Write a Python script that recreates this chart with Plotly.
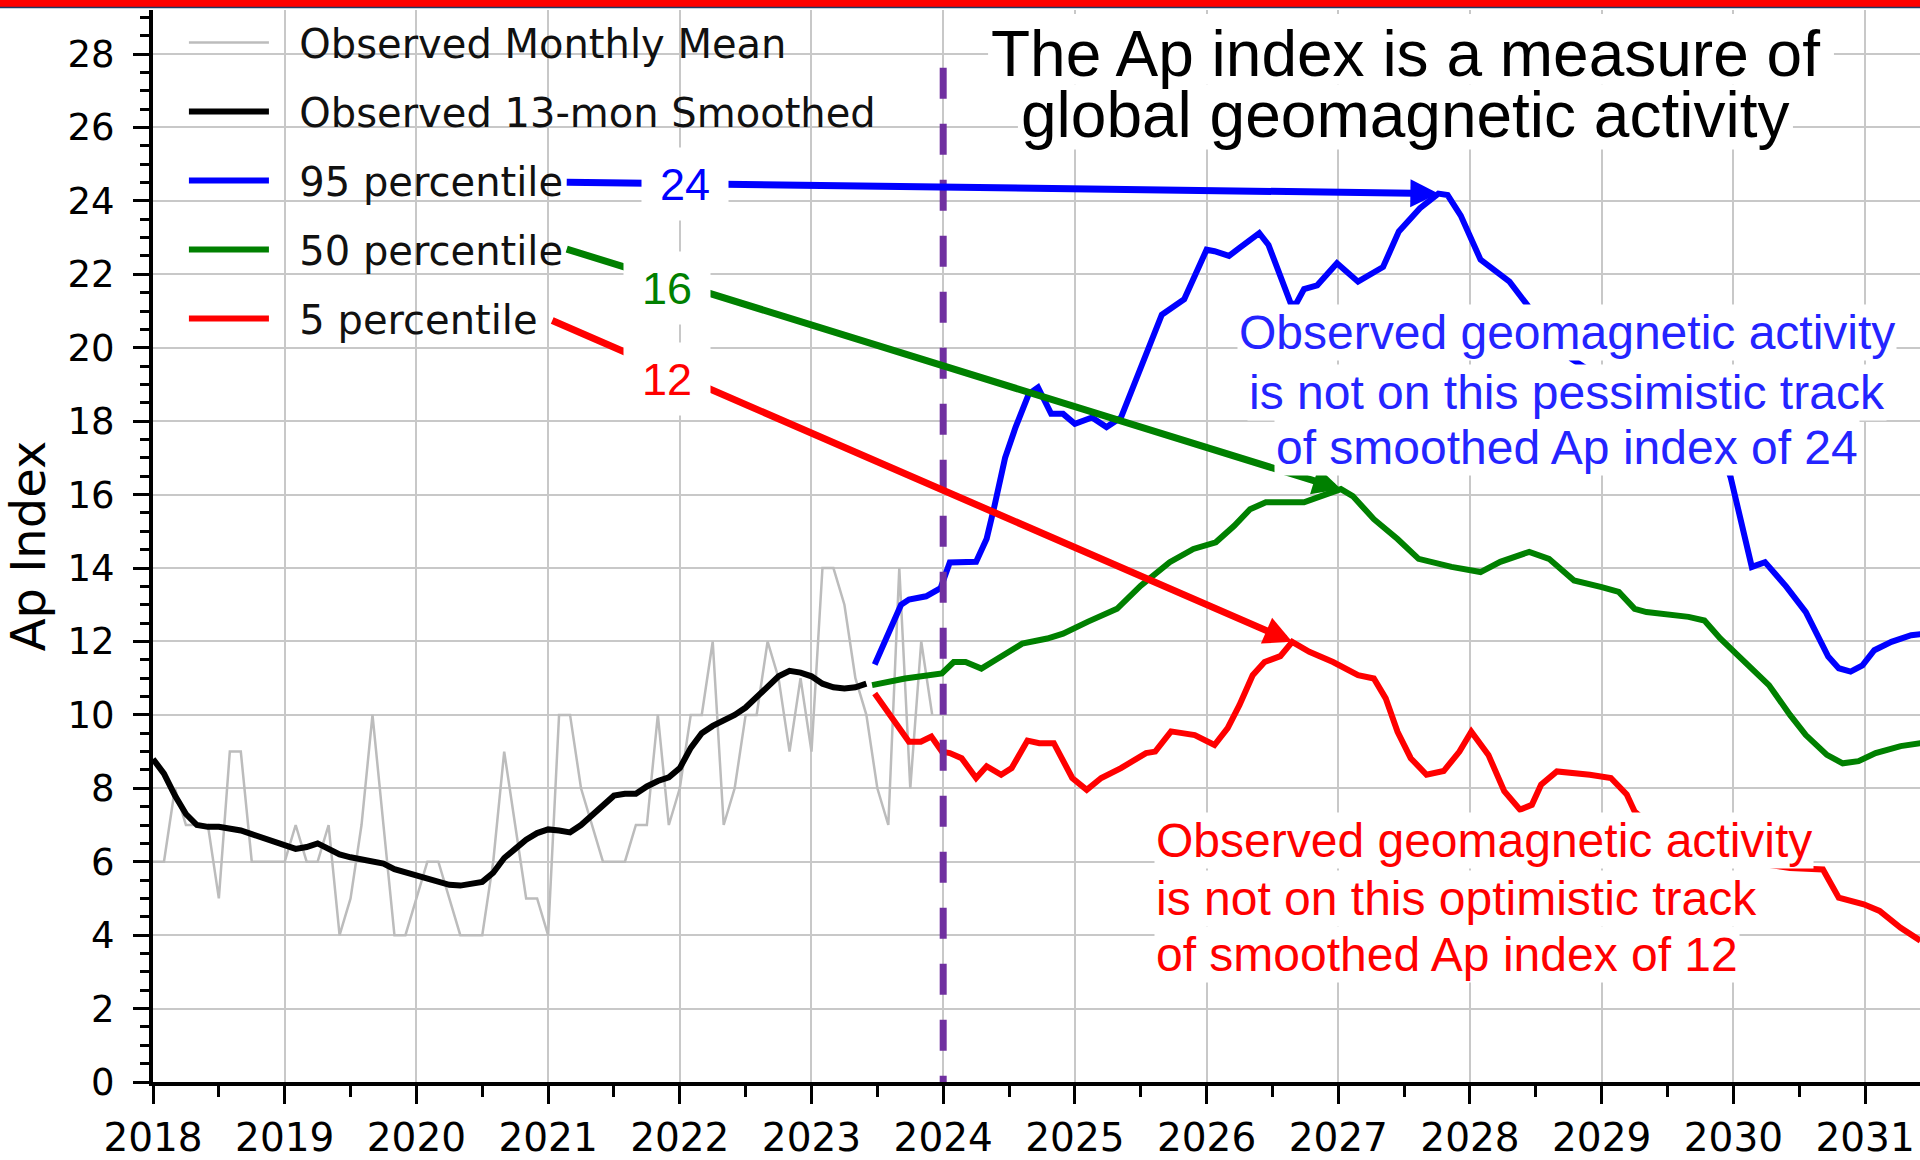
import plotly.graph_objects as go

# Observed monthly Ap means, one value per month from Jan 2018 to Dec 2023
monthly_mean = [
    6, 6, 8, 7, 7, 7, 5, 9, 9, 6, 6, 6,
    6, 7, 6, 6, 7, 4, 5, 7, 10, 7, 4, 4,
    5, 6, 6, 5, 4, 4, 4, 6, 9, 7, 5, 5,
    4, 10, 10, 8, 7, 6, 6, 6, 7, 7, 10, 7,
    8, 10, 10, 12, 7, 8, 10, 10, 12, 11, 9, 11,
    9, 14, 14, 13, 11, 10, 8, 7, 14, 8, 12, 10,
]

# Observed 13-month smoothed Ap, Jan 2018 to Jun 2023
smoothed = [
    8.8, 8.4, 7.8, 7.3, 7.0, 6.95, 6.95, 6.9, 6.85, 6.75, 6.65, 6.55,
    6.45, 6.35, 6.4, 6.5, 6.35, 6.2, 6.12, 6.07, 6.02, 5.95, 5.8, 5.72,
    5.65, 5.57, 5.45, 5.37, 5.35, 5.4, 5.45, 5.7, 6.1, 6.35, 6.6, 6.78,
    6.88, 6.85, 6.8, 7.0, 7.25, 7.55, 7.8, 7.85, 7.85, 8.05, 8.2, 8.3,
    8.55, 9.1, 9.5, 9.7, 9.85, 10.0, 10.2, 10.5, 10.8, 11.05, 11.2, 11.15,
    11.05, 10.85, 10.75, 10.72, 10.75, 10.85,
]

# Forecast tracks (decimal year, Ap)
p95_years = [2023.48, 2023.68, 2023.74, 2023.87, 2023.98, 2024.05, 2024.25, 2024.33, 2024.39,
             2024.47, 2024.55, 2024.65, 2024.72, 2024.82, 2024.91, 2025.0, 2025.13, 2025.24,
             2025.35, 2025.44, 2025.53, 2025.66, 2025.83, 2025.87, 2026.0, 2026.06, 2026.17,
             2026.25, 2026.4, 2026.47, 2026.56, 2026.64, 2026.68, 2026.74, 2026.84, 2026.99,
             2027.15, 2027.34, 2027.46, 2027.62, 2027.76, 2027.83, 2027.93, 2028.08, 2028.3,
             2028.44, 2028.6, 2028.77, 2028.9, 2029.08, 2029.3, 2029.5, 2029.74, 2029.9,
             2029.98, 2030.05, 2030.14, 2030.24, 2030.4, 2030.55, 2030.72, 2030.8, 2030.89,
             2030.98, 2031.07, 2031.2, 2031.35, 2031.42]
p95_values = [11.37, 13.0, 13.14, 13.23, 13.45, 14.15, 14.17, 14.8, 15.7,
              17.0, 17.84, 18.74, 18.92, 18.2, 18.2, 17.93, 18.1, 17.84,
              18.1, 18.92, 19.74, 20.9, 21.32, 21.63, 22.67, 22.63, 22.5,
              22.72, 23.12, 22.8, 22.0, 21.2, 21.2, 21.6, 21.7, 22.3,
              21.8, 22.2, 23.17, 23.8, 24.2, 24.16, 23.6, 22.4, 21.8,
              21.14, 20.5, 19.7, 19.4, 18.2, 18.0, 18.3, 18.1, 17.3,
              16.46, 15.42, 14.03, 14.16, 13.5, 12.8, 11.59, 11.27, 11.18,
              11.35, 11.76, 11.99, 12.17, 12.2]

p50_years = [2023.46, 2023.71, 2023.99, 2024.08, 2024.17, 2024.29, 2024.4, 2024.6, 2024.79,
             2024.91, 2025.1, 2025.32, 2025.5, 2025.72, 2025.9, 2026.07, 2026.21, 2026.33,
             2026.45, 2026.74, 2026.87, 2027.02, 2027.11, 2027.27, 2027.45, 2027.61, 2027.86,
             2028.08, 2028.23, 2028.45, 2028.6, 2028.79, 2029.0, 2029.13, 2029.25, 2029.34,
             2029.66, 2029.78, 2029.9, 2030.12, 2030.27, 2030.43, 2030.55, 2030.71, 2030.83,
             2030.95, 2031.08, 2031.27, 2031.42]
p50_values = [10.81, 10.99, 11.13, 11.44, 11.44, 11.26, 11.5, 11.94, 12.08,
              12.21, 12.54, 12.89, 13.52, 14.16, 14.52, 14.7, 15.15, 15.6,
              15.79, 15.79, 15.96, 16.15, 15.96, 15.33, 14.79, 14.25, 14.03,
              13.89, 14.17, 14.44, 14.25, 13.66, 13.48, 13.35, 12.89, 12.8,
              12.67, 12.57, 12.08, 11.35, 10.81, 10.0, 9.45, 8.91, 8.68,
              8.74, 8.96, 9.15, 9.23]

p5_years = [2023.48, 2023.62, 2023.74, 2023.83, 2023.91, 2023.99, 2024.05, 2024.14, 2024.25,
            2024.33, 2024.44, 2024.52, 2024.64, 2024.73, 2024.84, 2024.98, 2025.09, 2025.2,
            2025.35, 2025.54, 2025.61, 2025.73, 2025.91, 2026.06, 2026.16, 2026.25, 2026.35,
            2026.44, 2026.56, 2026.65, 2026.78, 2026.96, 2027.15, 2027.27, 2027.36, 2027.45,
            2027.55, 2027.67, 2027.8, 2027.92, 2028.01, 2028.14, 2028.26, 2028.38, 2028.47,
            2028.54, 2028.66, 2028.91, 2029.07, 2029.19, 2029.25, 2029.4, 2029.6, 2029.8,
            2030.0, 2030.2, 2030.43, 2030.68, 2030.8, 2030.99, 2031.11, 2031.27, 2031.42]
p5_values = [10.58, 9.9, 9.27, 9.27, 9.41, 9.0, 8.96, 8.82, 8.28,
             8.6, 8.37, 8.55, 9.3, 9.23, 9.23, 8.28, 7.96, 8.28,
             8.55, 8.96, 9.0, 9.55, 9.45, 9.18, 9.64, 10.27, 11.08,
             11.44, 11.6, 11.99, 11.72, 11.44, 11.08, 10.99, 10.45, 9.54,
             8.82, 8.37, 8.47, 9.0, 9.54, 8.91, 7.92, 7.42, 7.55,
             8.1, 8.46, 8.37, 8.28, 7.83, 7.37, 6.9, 6.6, 6.3,
             6.1, 5.95, 5.83, 5.79, 5.02, 4.84, 4.66, 4.2, 3.85]

year_ticks = list(range(2018, 2032))
now_year = 2024.0

# arrow tails (next to the legend entries) and peak labels
arrow_tail_x = [2021.13, 2021.13, 2021.02]
arrow_tail_y = [24.51, 22.7, 20.76]
label_x = [2022.04, 2021.9, 2021.9]
label_y = [24.47, 21.64, 19.16]

BLUE, GREEN, RED = '#0000ff', '#008000', '#ff0000'
TEXT_FONT = 'Liberation Sans, Arial, sans-serif'
AXIS_FONT = 'DejaVu Sans, sans-serif'
PAD = '\u00a0\u00a0'  # gap between legend line and legend text

months_x = [2018 + i / 12 for i in range(len(monthly_mean))]
smooth_x = months_x[:len(smoothed)]

fig = go.Figure()

fig.add_trace(go.Scatter(x=months_x, y=monthly_mean, mode='lines', name=PAD + 'Observed Monthly Mean',
                         legendgroup='a', line=dict(color='#bcbcbc', width=2.5)))
fig.add_trace(go.Scatter(x=smooth_x, y=smoothed, mode='lines', name=PAD + 'Observed 13-mon Smoothed',
                         legendgroup='b', line=dict(color='black', width=6)))

tracks = [('95 percentile', p95_years, p95_values, BLUE),
          ('50 percentile', p50_years, p50_values, GREEN),
          ('5 percentile', p5_years, p5_values, RED)]
for name, xs, ys, color in tracks:
    fig.add_trace(go.Scatter(x=xs, y=ys, mode='lines', name=PAD + name, legendgroup=name,
                             line=dict(color=color, width=6)))

# arrows from legend entries to the peak of each track, then the peak labels on top
annotations = []
for i, (name, xs, ys, color) in enumerate(tracks):
    k = ys.index(max(ys))
    annotations.append(dict(x=xs[k], y=ys[k], ax=arrow_tail_x[i], ay=arrow_tail_y[i],
                            xref='x', yref='y', axref='x', ayref='y', text='',
                            showarrow=True, arrowhead=2, arrowsize=0.8, arrowwidth=7,
                            arrowcolor=color))
for i, (name, xs, ys, color) in enumerate(tracks):
    annotations.append(dict(x=label_x[i], y=label_y[i], xref='x', yref='y',
                            text=str(round(max(ys))), showarrow=False,
                            font=dict(family=TEXT_FONT, size=45, color=color),
                            bgcolor='white', width=70, height=56, borderpad=8))

# title: white boxes are drawn as shapes so the two tight lines do not overlap
title_lines = [('The Ap index is a measure of', 28.0), ('global geomagnetic activity', 26.33)]
for txt, yv in title_lines:
    annotations.append(dict(x=2027.51, y=yv, xref='x', yref='y', text=txt, showarrow=False,
                            font=dict(family=TEXT_FONT, size=64, color='black')))

blue_lines = [('Observed geomagnetic activity', 20.42),
              ('is not on this pessimistic track', 18.78),
              ('of smoothed Ap index of 24', 17.29)]
for txt, yv in blue_lines:
    annotations.append(dict(x=2028.74, y=yv, xref='x', yref='y', text=txt, showarrow=False,
                            font=dict(family=TEXT_FONT, size=48, color='#2424ff'),
                            bgcolor='white', borderpad=1))

red_lines = [('Observed geomagnetic activity', 6.59),
             ('is not on this optimistic track', 5.01),
             ('of smoothed Ap index of 12', 3.46)]
for txt, yv in red_lines:
    annotations.append(dict(x=2025.6, y=yv, xref='x', yref='y', text=txt, showarrow=False,
                            xanchor='left', align='left',
                            font=dict(family=TEXT_FONT, size=48, color=RED),
                            bgcolor='white', borderpad=1))

shapes = [
    dict(type='line', xref='x', yref='y', x0=now_year, x1=now_year, y0=27.63, y1=0,
         line=dict(color='#7030a0', width=7, dash='31px,25px')),
    # white boxes behind the two title lines
    dict(type='rect', xref='paper', yref='paper', x0=0.4726, x1=0.9513, y0=0.9302, y1=0.9963,
         fillcolor='white', line=dict(width=0)),
    dict(type='rect', xref='paper', yref='paper', x0=0.4895, x1=0.9281, y0=0.8698, y1=0.9302,
         fillcolor='white', line=dict(width=0)),
    # slide banner at the very top
    dict(type='rect', xref='paper', yref='paper', x0=-0.1, x1=1.01, y0=1.0028, y1=1.02,
         fillcolor='red', line=dict(width=0)),
    dict(type='line', xref='paper', yref='paper', x0=-0.1, x1=1.01, y0=1.0024, y1=1.0024,
         line=dict(color='#203864', width=1.5)),
]

fig.update_layout(
    width=1920, height=1160,
    margin=dict(l=153, r=0, t=10, b=75),
    paper_bgcolor='white', plot_bgcolor='white',
    annotations=annotations, shapes=shapes,
    showlegend=True,
    legend=dict(x=0.0175, y=1.0, xanchor='left', yanchor='top', bgcolor='rgba(0,0,0,0)',
                font=dict(family=AXIS_FONT, size=40, color='#111111'),
                itemwidth=80, tracegroupgap=14, traceorder='grouped'),
    xaxis=dict(range=[2018, 2031.417], tickmode='array', tickvals=year_ticks,
               showgrid=True, gridcolor='#c8c8c8', gridwidth=2, zeroline=False,
               showline=True, linecolor='black', linewidth=4,
               ticks='outside', ticklen=18, tickwidth=3, tickcolor='black',
               ticklabelstandoff=0,
               tickfont=dict(family=AXIS_FONT, size=39, color='black'),
               minor=dict(dtick=0.5, tick0=2018, ticks='outside', ticklen=11, tickwidth=3,
                          tickcolor='black', showgrid=False)),
    yaxis=dict(range=[0, 29.2], dtick=2, tick0=0,
               showgrid=True, gridcolor='#c8c8c8', gridwidth=2, zeroline=False,
               showline=True, linecolor='black', linewidth=4,
               ticks='outside', ticklen=16, tickwidth=3, tickcolor='black',
               ticklabelstandoff=11,
               tickfont=dict(family=AXIS_FONT, size=37, color='black'),
               title=dict(text='Ap Index', font=dict(family=AXIS_FONT, size=48, color='black'),
                          standoff=20),
               minor=dict(dtick=0.5, ticks='outside', ticklen=9, tickwidth=3,
                          tickcolor='black', showgrid=False)),
)

# the page's default 8px body margin would push the figure off its 1920x1160 frame
fig.write_html('out.html', config={'displayModeBar': False},
               post_script="document.body.style.margin='0px';")
